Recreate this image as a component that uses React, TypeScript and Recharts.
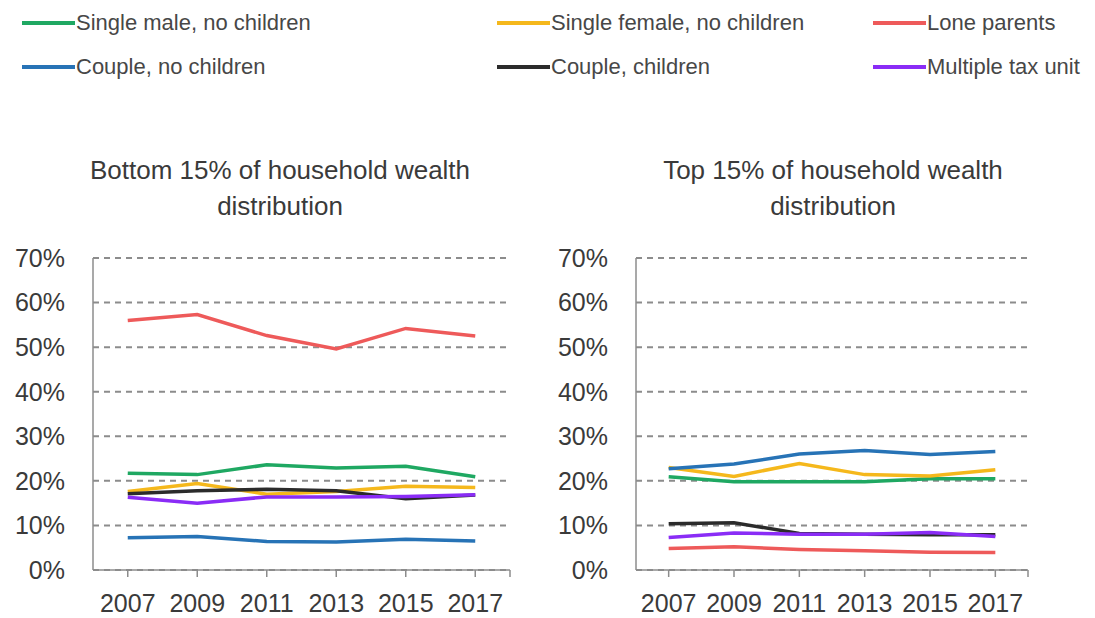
import React from "react";
import { LineChart, Line, XAxis, YAxis, CartesianGrid } from "recharts";

const years = ["2007", "2009", "2011", "2013", "2015", "2017"];
const yTicks = [0, 10, 20, 30, 40, 50, 60, 70];

// Bottom 15%
const bottomSingleMale = [21.7, 21.4, 23.6, 22.9, 23.3, 20.9];
const bottomSingleFemale = [17.6, 19.4, 17.0, 17.6, 18.8, 18.5];
const bottomLoneParents = [56.0, 57.3, 52.6, 49.6, 54.2, 52.5];
const bottomCoupleNoChildren = [7.25, 7.5, 6.4, 6.3, 6.9, 6.5];
const bottomCoupleChildren = [17.1, 17.8, 18.1, 17.8, 16.0, 16.8];
const bottomMultipleTax = [16.3, 15.0, 16.4, 16.4, 16.5, 16.9];

// Top 15%
const topSingleMale = [20.9, 19.8, 19.8, 19.8, 20.5, 20.5];
const topSingleFemale = [23.0, 21.0, 23.9, 21.4, 21.1, 22.5];
const topLoneParents = [4.8, 5.2, 4.6, 4.3, 4.0, 3.9];
const topCoupleNoChildren = [22.7, 23.8, 26.0, 26.8, 25.9, 26.6];
const topCoupleChildren = [10.4, 10.6, 8.2, 8.0, 7.9, 7.9];
const topMultipleTax = [7.3, 8.3, 8.0, 8.0, 8.4, 7.5];

const seriesInfo = [
  { key: "sm", name: "Single male, no children", color: "#1fa862" },
  { key: "sf", name: "Single female, no children", color: "#f5b81c" },
  { key: "lp", name: "Lone parents", color: "#ee5a5a" },
  { key: "cn", name: "Couple, no children", color: "#2773b6" },
  { key: "cc", name: "Couple, children", color: "#2b2b2b" },
  { key: "mt", name: "Multiple tax unit", color: "#8a2cf6" },
];

const build = (sm: number[], sf: number[], lp: number[], cn: number[], cc: number[], mt: number[]) =>
  years.map((year, i) => ({ year, sm: sm[i], sf: sf[i], lp: lp[i], cn: cn[i], cc: cc[i], mt: mt[i] }));

const bottomData = build(bottomSingleMale, bottomSingleFemale, bottomLoneParents, bottomCoupleNoChildren, bottomCoupleChildren, bottomMultipleTax);
const topData = build(topSingleMale, topSingleFemale, topLoneParents, topCoupleNoChildren, topCoupleChildren, topMultipleTax);

const FONT = "'Liberation Sans', Arial, sans-serif";
const TEXT = "#3a3a3a";
const AXIS = "#8c8c8c";
const X_TICK_SIZE = 7;
const X_TICK_MARGIN = 17;

const legendLeft = [22, 497, 873];
const legendTop = [23, 67];

function makeTick(pad: number, count: number) {
  return (props: any) => {
    const { x, y, payload, index } = props;
    const axisY = y - X_TICK_MARGIN - X_TICK_SIZE;
    return (
      <g>
        {index === count - 1 && (
          <line x1={x + pad} x2={x + pad} y1={axisY} y2={axisY + X_TICK_SIZE} stroke={AXIS} strokeWidth={1.5} />
        )}
        <text x={x} y={y} dy="0.71em" textAnchor="middle" fill={TEXT} fontSize={25} fontFamily={FONT}>
          {payload.value}
        </text>
      </g>
    );
  };
}

function Panel({ data, width, yAxisWidth, rightMargin, pad }: { data: any[]; width: number; yAxisWidth: number; rightMargin: number; pad: number }) {
  return (
    <LineChart width={width} height={388} data={data} margin={{ top: 28, right: rightMargin, bottom: 0, left: 0 }}>
      <CartesianGrid horizontal vertical={false} stroke={AXIS} strokeWidth={2} strokeDasharray="6 5" />
      <XAxis
        dataKey="year"
        height={48}
        padding={{ left: pad, right: pad }}
        axisLine={{ stroke: AXIS, strokeWidth: 1.5 }}
        tickLine={{ stroke: AXIS, strokeWidth: 1.5 }}
        tickSize={X_TICK_SIZE}
        tickMargin={X_TICK_MARGIN}
        interval={0}
        tick={makeTick(pad, years.length)}
      />
      <YAxis
        width={yAxisWidth}
        domain={[0, 70]}
        ticks={yTicks}
        interval={0}
        tickFormatter={(v: number) => `${v}%`}
        axisLine={{ stroke: AXIS, strokeWidth: 1.5 }}
        tickLine={false}
        tickSize={6}
        tickMargin={22}
        tick={{ fill: TEXT, fontSize: 25, fontFamily: FONT }}
      />
      {seriesInfo.map((s) => (
        <Line
          key={s.key}
          type="linear"
          dataKey={s.key}
          name={s.name}
          stroke={s.color}
          strokeWidth={3.5}
          dot={false}
          activeDot={false}
          isAnimationActive={false}
        />
      ))}
    </LineChart>
  );
}

export default function App() {
  return (
    <div style={{ position: "absolute", left: 0, top: 0, width: 1095, height: 618, background: "#fff", overflow: "hidden", fontFamily: FONT }}>
      {seriesInfo.map((s, i) => (
        <div
          key={s.key}
          style={{
            position: "absolute",
            left: legendLeft[i % 3],
            top: legendTop[Math.floor(i / 3)] - 14,
            height: 28,
            display: "flex",
            alignItems: "center",
            whiteSpace: "nowrap",
          }}
        >
          <div style={{ width: 53, height: 3.5, background: s.color, marginRight: 1 }} />
          <span style={{ fontSize: 22, color: "#474747", lineHeight: "28px" }}>{s.name}</span>
        </div>
      ))}

      <div style={{ position: "absolute", left: 60, top: 152, width: 440, textAlign: "center", fontSize: 26, lineHeight: "36px", color: TEXT }}>
        Bottom 15% of household wealth
        <br />
        distribution
      </div>
      <div style={{ position: "absolute", left: 613, top: 152, width: 440, textAlign: "center", fontSize: 26, lineHeight: "36px", color: TEXT }}>
        Top 15% of household wealth
        <br />
        distribution
      </div>

      <div style={{ position: "absolute", left: 0, top: 230 }}>
        <Panel data={bottomData} width={520} yAxisWidth={93} rightMargin={10} pad={34.75} />
      </div>
      <div style={{ position: "absolute", left: 540, top: 230 }}>
        <Panel data={topData} width={555} yAxisWidth={96} rightMargin={67} pad={32.67} />
      </div>
    </div>
  );
}
